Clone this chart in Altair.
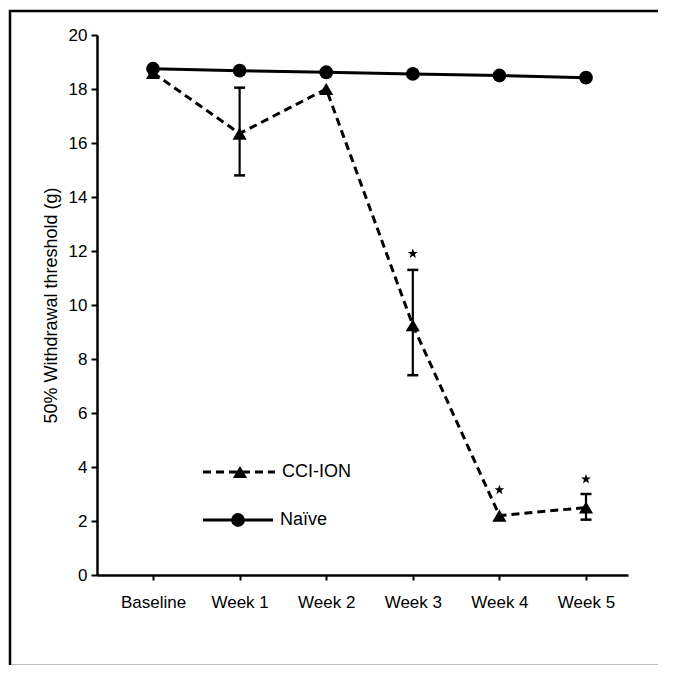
import altair as alt
import pandas as pd

timepoints = ["Baseline", "Week 1", "Week 2", "Week 3", "Week 4", "Week 5"]
naive = [18.75, 18.68, 18.62, 18.56, 18.50, 18.42]
cci_ion = [18.6, 16.35, 18.0, 9.25, 2.2, 2.5]
err_idx = [1, 3, 5]
err_low = [14.8, 7.4, 2.05]
err_high = [18.05, 11.3, 3.0]
star_idx = [3, 4, 5]
star_y = [11.9, 3.15, 3.55]
y_ticks = [0, 2, 4, 6, 8, 10, 12, 14, 16, 18, 20]

FONT = "Liberation Sans"
W, H = 531, 540

idx = list(range(len(timepoints)))
df_naive = pd.DataFrame({"i": idx, "v": naive})
df_cci = pd.DataFrame({"i": idx, "v": cci_ion})
df_err = pd.DataFrame({"i": err_idx, "lo": err_low, "hi": err_high})
df_star = pd.DataFrame({"i": star_idx, "v": star_y})

label_expr = "[" + ",".join("'" + t + "'" for t in timepoints) + "][datum.value]"

xscale = alt.Scale(domain=[-0.647, 5.485], nice=False, zero=False)
yscale = alt.Scale(domain=[0, 20], nice=False)

xaxis = alt.Axis(values=idx, labelExpr=label_expr, title=None, grid=False,
                 tickSize=5, tickWidth=2, tickColor="black", domainColor="black",
                 domainWidth=2.5, labelPadding=14, labelFont=FONT, labelFontSize=17,
                 labelColor="black")
yaxis = alt.Axis(values=y_ticks, title="50% Withdrawal threshold (g)", grid=False,
                 tickSize=6, tickWidth=2, tickColor="black", domainColor="black",
                 domainWidth=2.5, labelPadding=4, labelFont=FONT, labelFontSize=17,
                 labelColor="black", titleFont=FONT, titleFontSize=18,
                 titleFontWeight="normal", titleColor="black", titlePadding=8)

X = alt.X("i:Q", scale=xscale, axis=xaxis)
Y = alt.Y("v:Q", scale=yscale, axis=yaxis)

naive_line = alt.Chart(df_naive).mark_line(color="black", strokeWidth=3).encode(x=X, y=Y)
naive_pts = alt.Chart(df_naive).mark_point(shape="circle", filled=True, size=190,
                                           color="black", opacity=1).encode(x=X, y=Y)
cci_line = alt.Chart(df_cci).mark_line(color="black", strokeWidth=3,
                                       strokeDash=[8, 5]).encode(x=X, y=Y)
cci_pts = alt.Chart(df_cci).mark_point(shape="triangle-up", filled=True, size=200,
                                       color="black", opacity=1).encode(x=X, y=Y)
err_rule = alt.Chart(df_err).mark_rule(color="black", strokeWidth=2.2).encode(
    x=alt.X("i:Q", scale=xscale), y=alt.Y("lo:Q", scale=yscale), y2="hi:Q")
cap_lo = alt.Chart(df_err).mark_tick(color="black", orient="horizontal", size=11,
                                     thickness=2.5, opacity=1).encode(
    x=alt.X("i:Q", scale=xscale), y=alt.Y("lo:Q", scale=yscale))
cap_hi = alt.Chart(df_err).mark_tick(color="black", orient="horizontal", size=11,
                                     thickness=2.5, opacity=1).encode(
    x=alt.X("i:Q", scale=xscale), y=alt.Y("hi:Q", scale=yscale))
star_path = ("M0,-1L0.235,-0.324L0.951,-0.309L0.38,0.124L0.588,0.809L0,0.4"
             "L-0.588,0.809L-0.38,0.124L-0.951,-0.309L-0.235,-0.324Z")
stars = alt.Chart(df_star).mark_point(shape=star_path, filled=True, size=110,
                                      color="black", opacity=1).encode(
    x=alt.X("i:Q", scale=xscale), y=alt.Y("v:Q", scale=yscale))

# manual legend
leg_y1, leg_y2 = 437, 485
leg1_line = alt.Chart().mark_rule(color="black", strokeWidth=3, strokeDash=[8, 5]).encode(
    x=alt.value(106), x2=alt.value(178), y=alt.value(leg_y1))
leg1_pt = alt.Chart().mark_point(shape="triangle-up", filled=True, size=200, color="black",
                                 opacity=1).encode(x=alt.value(143), y=alt.value(leg_y1))
leg1_txt = alt.Chart().mark_text(text="CCI-ION", align="left", baseline="middle",
                                 font=FONT, fontSize=18, color="black").encode(
    x=alt.value(185), y=alt.value(leg_y1))
leg2_line = alt.Chart().mark_rule(color="black", strokeWidth=3).encode(
    x=alt.value(106), x2=alt.value(176), y=alt.value(leg_y2))
leg2_pt = alt.Chart().mark_point(shape="circle", filled=True, size=190, color="black",
                                 opacity=1).encode(x=alt.value(141), y=alt.value(leg_y2))
leg2_txt = alt.Chart().mark_text(text="Naïve", align="left", baseline="middle",
                                 font=FONT, fontSize=18, color="black").encode(
    x=alt.value(183), y=alt.value(leg_y2))

# outer frame of the figure
frame = alt.Chart().mark_rect(fill=None, stroke="black", strokeWidth=2.5).encode(
    x=alt.value(-87), x2=alt.value(563), y=alt.value(-24), y2=alt.value(631))

chart = alt.layer(
    frame, cci_line, naive_line, err_rule, cap_lo, cap_hi, cci_pts, naive_pts, stars,
    leg1_line, leg1_pt, leg1_txt, leg2_line, leg2_pt, leg2_txt
).properties(
    width=W, height=H,
    autosize=alt.AutoSizeParams(type="none"),
    padding={"left": 89, "top": 27, "right": 30, "bottom": 90},
    background="white",
).configure_view(stroke=None)

chart.save("out.html", embed_options={"renderer": "svg", "actions": False})
